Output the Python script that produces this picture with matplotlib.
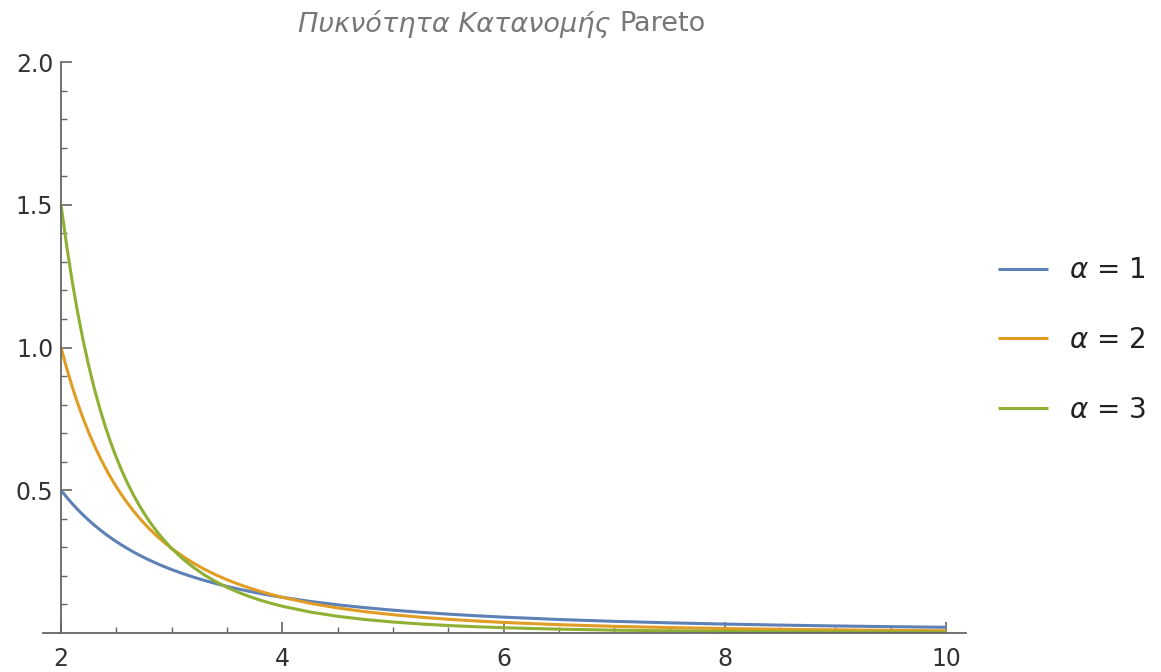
import matplotlib.pyplot as plt
from matplotlib.ticker import FixedLocator

# Pareto density, scale k = 2, values sampled along x
x_vals = [2.0, 2.05, 2.1, 2.15, 2.2, 2.25, 2.3, 2.35, 2.4, 2.45, 2.5, 2.55, 2.6, 2.65, 2.7,
          2.75, 2.8, 2.85, 2.9, 2.95, 3.0, 3.1, 3.2, 3.3, 3.4, 3.5, 3.6, 3.7, 3.8, 3.9,
          4.0, 4.25, 4.5, 4.75, 5.0, 5.25, 5.5, 5.75, 6.0, 6.5, 7.0, 7.5, 8.0, 8.5, 9.0, 9.5, 10.0]
alpha1 = [0.5, 0.4759, 0.4535, 0.4327, 0.4132, 0.3951, 0.3781, 0.3622, 0.3472, 0.3332,
          0.32, 0.3076, 0.2959, 0.2848, 0.2743, 0.2645, 0.2551, 0.2462, 0.2378, 0.2298,
          0.2222, 0.2081, 0.1953, 0.1837, 0.1730, 0.1633, 0.1543, 0.1461, 0.1385, 0.1315,
          0.125, 0.1107, 0.0988, 0.0886, 0.08, 0.0726, 0.0661, 0.0605, 0.0556, 0.0473,
          0.0408, 0.0356, 0.03125, 0.0277, 0.0247, 0.0222, 0.02]
alpha2 = [1.0, 0.9286, 0.8638, 0.8050, 0.7513, 0.7023, 0.6575, 0.6164, 0.5787, 0.5440,
          0.512, 0.4825, 0.4552, 0.4299, 0.4064, 0.3847, 0.3644, 0.3456, 0.3280, 0.3116,
          0.2963, 0.2685, 0.2441, 0.2226, 0.2035, 0.1866, 0.1715, 0.1579, 0.1458, 0.1349,
          0.125, 0.1042, 0.0878, 0.0746, 0.064, 0.0553, 0.0481, 0.0421, 0.0370, 0.0291,
          0.0233, 0.0190, 0.0156, 0.0130, 0.0110, 0.0093, 0.008]
alpha3 = [1.5, 1.3589, 1.2341, 1.1232, 1.0245, 0.9364, 0.8576, 0.7869, 0.7234, 0.6661,
          0.6144, 0.5676, 0.5252, 0.4867, 0.4516, 0.4196, 0.3905, 0.3638, 0.3393, 0.3169,
          0.2963, 0.2599, 0.2289, 0.2024, 0.1796, 0.1599, 0.1429, 0.1281, 0.1151, 0.1037,
          0.09375, 0.0736, 0.0585, 0.0471, 0.0384, 0.0316, 0.0262, 0.0220, 0.0185, 0.0134,
          0.0100, 0.0076, 0.00586, 0.0046, 0.00366, 0.0029, 0.0024]
labels = ["$\\alpha$ = 1", "$\\alpha$ = 2", "$\\alpha$ = 3"]
colors = ["#5E81B5", "#E19C24", "#8FB032"]

x_major = [2, 4, 6, 8, 10]
x_minor = [2.5, 3, 3.5, 4.5, 5, 5.5, 6.5, 7, 7.5, 8.5, 9, 9.5]
y_major = [0.5, 1.0, 1.5, 2.0]
y_minor = [0.1, 0.2, 0.3, 0.4, 0.6, 0.7, 0.8, 0.9, 1.1, 1.2, 1.3, 1.4, 1.6, 1.7, 1.8, 1.9]

W, H = 1161, 672
fig = plt.figure(figsize=(W / 100, H / 100), dpi=100)
ax = fig.add_axes([43 / W, 1 - 633 / H, (966 - 43) / W, (633 - 62) / H])

for ys, lab, c in zip([alpha1, alpha2, alpha3], labels, colors):
    ax.plot(x_vals, ys, color=c, lw=2.2, label=lab, solid_capstyle="butt")

ax.set_xlim(1.837, 10.18)
ax.set_ylim(0, 2.0)
ax.spines["top"].set_visible(False)
ax.spines["right"].set_visible(False)
ax.spines["left"].set_position(("data", 2))
for s in ("left", "bottom"):
    ax.spines[s].set_color("#666666")
    ax.spines[s].set_linewidth(1.3)

ax.xaxis.set_major_locator(FixedLocator(x_major))
ax.xaxis.set_minor_locator(FixedLocator(x_minor))
ax.yaxis.set_major_locator(FixedLocator(y_major))
ax.yaxis.set_minor_locator(FixedLocator(y_minor))
ax.set_xticklabels([str(v) for v in x_major])
ax.set_yticklabels([f"{v:.1f}" for v in y_major])
ax.tick_params(which="major", direction="in", length=8, width=1.2, color="#666666",
               labelsize=17, labelcolor="#333333")
ax.tick_params(which="minor", direction="in", length=4.5, width=1.0, color="#666666")
ax.tick_params(axis="y", which="major", pad=5.5)
ax.tick_params(axis="x", which="major", pad=10)

leg = ax.legend(loc="center left", bbox_to_anchor=(998 / W, 1 - 340 / H),
                bbox_transform=fig.transFigure, frameon=False, fontsize=20,
                handlelength=1.8, handletextpad=0.75, labelspacing=1.5,
                borderaxespad=0, borderpad=0)
for t in leg.get_texts():
    t.set_color("#222222")

# title: italic Greek part followed by upright "Pareto", centred as one line
renderer = fig.canvas.get_renderer()
t1 = fig.text(0, 1 - 24 / H, "Πυκνότητα Κατανομής", ha="left", va="center",
              fontsize=19.5, style="italic", color="#777777")
t2 = fig.text(0, 1 - 24 / H, "Pareto", ha="left", va="center",
              fontsize=19.5, color="#777777")
w1 = t1.get_window_extent(renderer).width
w2 = t2.get_window_extent(renderer).width
gap = 9
x0 = 502 - (w1 + gap + w2) / 2
t1.set_x(x0 / W)
t2.set_x((x0 + w1 + gap) / W)

fig.savefig("out.png", dpi=100)
